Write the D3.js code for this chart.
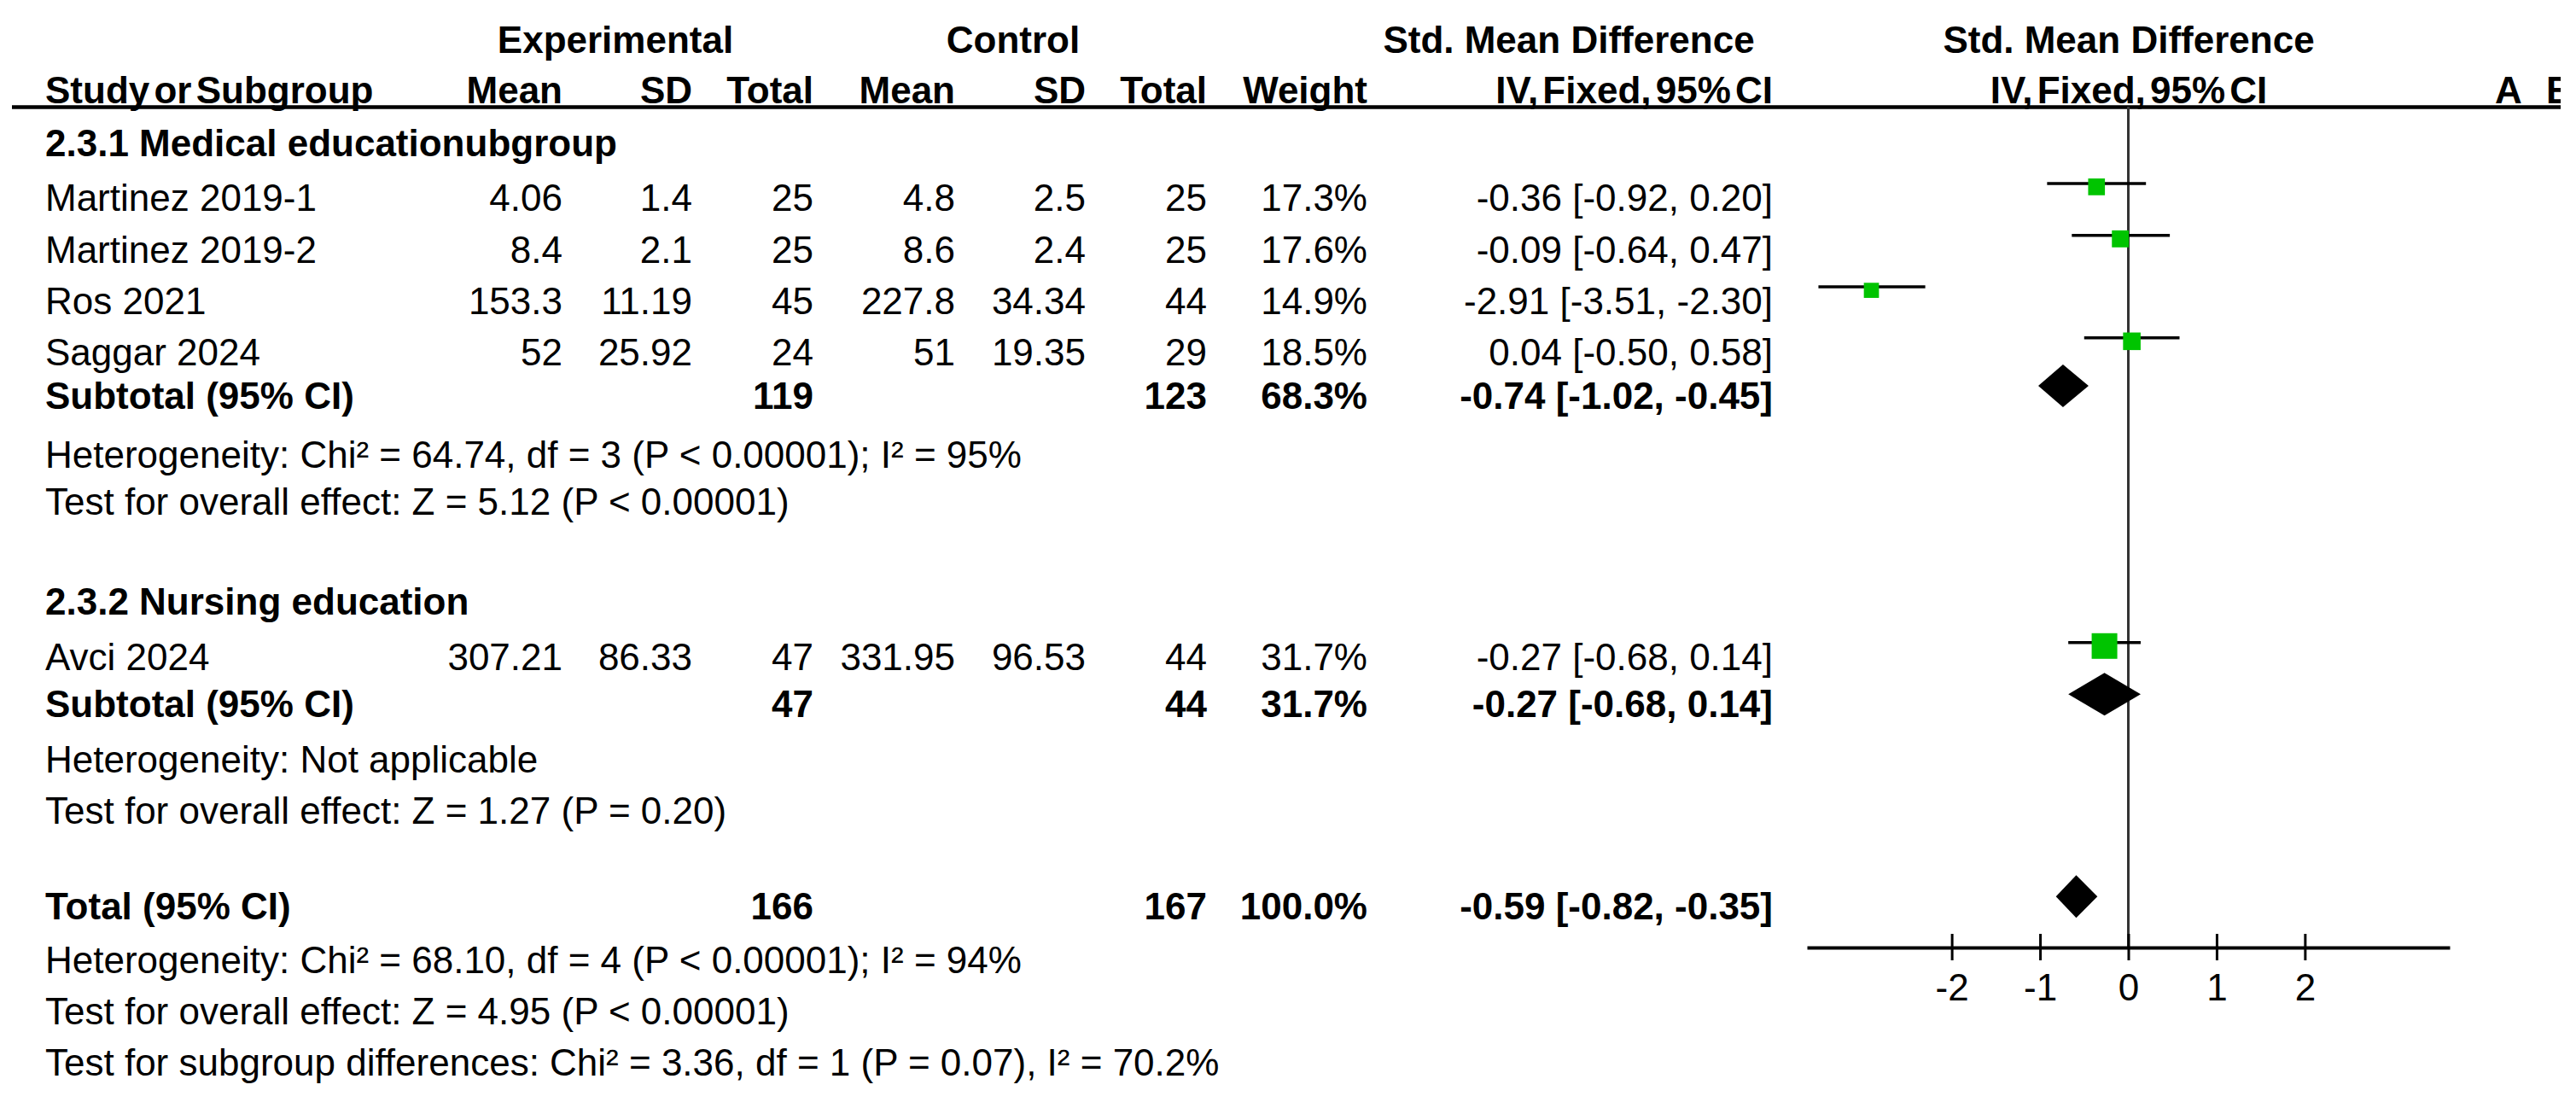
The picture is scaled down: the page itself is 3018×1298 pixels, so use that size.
<!DOCTYPE html>
<html><head><meta charset="utf-8">
<script src="https://cdn.jsdelivr.net/npm/d3@7"></script>
<style>
html,body{margin:0;padding:0;background:#fff;}
svg text{font-family:"Liberation Sans",Arial,Helvetica,sans-serif;font-size:44px;fill:#000;}
.b{font-weight:bold;}
.hd2{word-spacing:-7px;}
</style></head><body>
<svg id="c" width="3018" height="1298"></svg>
<script>
// ---------- data ----------
const studies   = ["Martinez 2019-1","Martinez 2019-2","Ros 2021","Saggar 2024","Avci 2024"];
const studyGrp  = [0,0,0,0,1];
const expMean   = [4.06, 8.4, 153.3, 52, 307.21];
const expSD     = [1.4, 2.1, 11.19, 25.92, 86.33];
const expN      = [25, 25, 45, 24, 47];
const ctrlMean  = [4.8, 8.6, 227.8, 51, 331.95];
const ctrlSD    = [2.5, 2.4, 34.34, 19.35, 96.53];
const ctrlN     = [25, 25, 44, 29, 44];
const weight    = [17.3, 17.6, 14.9, 18.5, 31.7];
const smd       = [-0.36, -0.09, -2.91, 0.04, -0.27];
const ciLow     = [-0.92, -0.64, -3.51, -0.50, -0.68];
const ciHigh    = [0.20, 0.47, -2.30, 0.58, 0.14];

const groups      = ["2.3.1 Medical educationubgroup","2.3.2 Nursing education"];
const grpExpN     = [119, 47];
const grpCtrlN    = [123, 44];
const grpWeight   = [68.3, 31.7];
const grpSmd      = [-0.74, -0.27];
const grpLow      = [-1.02, -0.68];
const grpHigh     = [-0.45, 0.14];
const grpHet      = ["Heterogeneity: Chi² = 64.74, df = 3 (P < 0.00001); I² = 95%","Heterogeneity: Not applicable"];
const grpTest     = ["Test for overall effect: Z = 5.12 (P < 0.00001)","Test for overall effect: Z = 1.27 (P = 0.20)"];

const totExpN = 166, totCtrlN = 167, totWeight = 100.0;
const totSmd = -0.59, totLow = -0.82, totHigh = -0.35;
const totNotes = ["Heterogeneity: Chi² = 68.10, df = 4 (P < 0.00001); I² = 94%",
                  "Test for overall effect: Z = 4.95 (P < 0.00001)",
                  "Test for subgroup differences: Chi² = 3.36, df = 1 (P = 0.07), I² = 70.2%"];

const tickValues = [-2,-1,0,1,2];
const axisDomain = [-3.64, 3.64];

// ---------- layout ----------
const svg = d3.select("#c");
svg.append("rect").attr("width",3018).attr("height",1298).attr("fill","#fff");
svg.append("defs").append("clipPath").attr("id","clipR")
  .append("rect").attr("x",0).attr("y",0).attr("width",3000).attr("height",1298);

const x = d3.scaleLinear().domain(axisDomain).range([2117, 2870]);
const rowY = d3.scaleLinear().domain([0,1]).range([183, 243.3]);
const studySlot = [1.06, 2.07, 3.07, 4.06, 9.98];
const grpSlot = [0, 8.905], subSlot = [4.91, 10.9], hetSlot = [6.05, 11.97], testSlot = [6.965, 12.97];
const totSlot = 14.83, notesSlot = [15.87, 16.87, 17.86];
const colX = {eMean:659, eSD:811, eN:953, cMean:1119, cSD:1272, cN:1414, w:1602, ci:2077};
const LX = 53;
const sqSize = d3.scalePow().exponent(0.7).domain([0, 31.7]).range([0, 30]);
const fmtCI = (m,l,h) => `${m.toFixed(2)} [${l.toFixed(2)}, ${h.toFixed(2)}]`;

function txt(s, xx, yy, anchor, cls, parent){
  return (parent||svg).append("text").attr("x",xx).attr("y",yy).attr("text-anchor",anchor||"start")
    .attr("class",cls||null).text(s);
}

// headers
const clipG = svg.append("g").attr("clip-path","url(#clipR)");
txt("Experimental", 721, 62, "middle", "b");
txt("Control", 1187, 62, "middle", "b");
txt("Std. Mean Difference", 1838, 62, "middle", "b");
txt("Std. Mean Difference", 2494, 62, "middle", "b");
txt("Study or Subgroup", LX, 121, "start", "b hd2");
[["Mean","eMean"],["SD","eSD"],["Total","eN"],["Mean","cMean"],["SD","cSD"],["Total","cN"],["Weight","w"],["IV, Fixed, 95% CI","ci"]]
  .forEach(([s,k]) => txt(s, colX[k], 121, "end", "b hd2"));
txt("IV, Fixed, 95% CI", 2494, 121, "middle", "b hd2");
txt("A", 2923, 121, "start", "b", clipG);
txt("B", 2983, 121, "start", "b", clipG);
clipG.append("line").attr("x1",14).attr("x2",3018).attr("y1",125.5).attr("y2",125.5)
  .attr("stroke","#000").attr("stroke-width",4.3);

// zero line
const axisY = 1110;
svg.append("line").attr("x1",x(0)).attr("x2",x(0)).attr("y1",125).attr("y2",axisY)
  .attr("stroke","#333").attr("stroke-width",3);

// study rows
studies.forEach((s,i) => {
  const yb = rowY(studySlot[i]);
  txt(s, LX, yb);
  txt(String(expMean[i]), colX.eMean, yb, "end");
  txt(String(expSD[i]), colX.eSD, yb, "end");
  txt(String(expN[i]), colX.eN, yb, "end");
  txt(String(ctrlMean[i]), colX.cMean, yb, "end");
  txt(String(ctrlSD[i]), colX.cSD, yb, "end");
  txt(String(ctrlN[i]), colX.cN, yb, "end");
  txt(weight[i].toFixed(1)+"%", colX.w, yb, "end");
  txt(fmtCI(smd[i], ciLow[i], ciHigh[i]), colX.ci, yb, "end");
  svg.append("line").attr("x1",x(ciLow[i])).attr("x2",x(ciHigh[i]))
    .attr("y1",yb-32).attr("y2",yb-32).attr("stroke","#000").attr("stroke-width",3.5);
  const sz = sqSize(weight[i]);
  svg.append("rect").attr("x",x(smd[i])-sz/2).attr("y",yb-28-sz/2)
    .attr("width",sz).attr("height",sz).attr("fill","#00c400");
});

function diamond(m,l,h,yc){
  const hh = 25;
  svg.append("path").attr("d",
    `M${x(l)},${yc} L${x(m)},${yc-hh} L${x(h)},${yc} L${x(m)},${yc+hh} Z`)
    .attr("fill","#000");
}

// subgroups
groups.forEach((g,j) => {
  txt(g, LX, rowY(grpSlot[j]), "start", "b");
  const yb = rowY(subSlot[j]);
  txt("Subtotal (95% CI)", LX, yb, "start", "b");
  txt(String(grpExpN[j]), colX.eN, yb, "end", "b");
  txt(String(grpCtrlN[j]), colX.cN, yb, "end", "b");
  txt(grpWeight[j].toFixed(1)+"%", colX.w, yb, "end", "b");
  txt(fmtCI(grpSmd[j], grpLow[j], grpHigh[j]), colX.ci, yb, "end", "b");
  diamond(grpSmd[j], grpLow[j], grpHigh[j], yb-27);
  txt(grpHet[j], LX, rowY(hetSlot[j]));
  txt(grpTest[j], LX, rowY(testSlot[j]));
});

// total
const ty = rowY(totSlot);
txt("Total (95% CI)", LX, ty, "start", "b");
txt(String(totExpN), colX.eN, ty, "end", "b");
txt(String(totCtrlN), colX.cN, ty, "end", "b");
txt(totWeight.toFixed(1)+"%", colX.w, ty, "end", "b");
txt(fmtCI(totSmd, totLow, totHigh), colX.ci, ty, "end", "b");
diamond(totSmd, totLow, totHigh, ty-27);
totNotes.forEach((n,k) => txt(n, LX, rowY(notesSlot[k])));

// axis
const ax = svg.append("g").attr("transform",`translate(0,${axisY})`)
  .call(d3.axisBottom(x).tickValues(tickValues).tickFormat(d => String(d)).tickSizeOuter(0));
ax.select(".domain").attr("stroke","#000").attr("stroke-width",4);
ax.selectAll(".tick line").attr("y1",-16).attr("y2",15).attr("stroke","#000").attr("stroke-width",3);
ax.selectAll(".tick text").attr("y",62).attr("dy",null)
  .style("font-family",'"Liberation Sans",Arial,sans-serif').style("font-size","44px").attr("fill","#000");
ax.attr("font-size",null).attr("font-family",null);
</script>
</body></html>
